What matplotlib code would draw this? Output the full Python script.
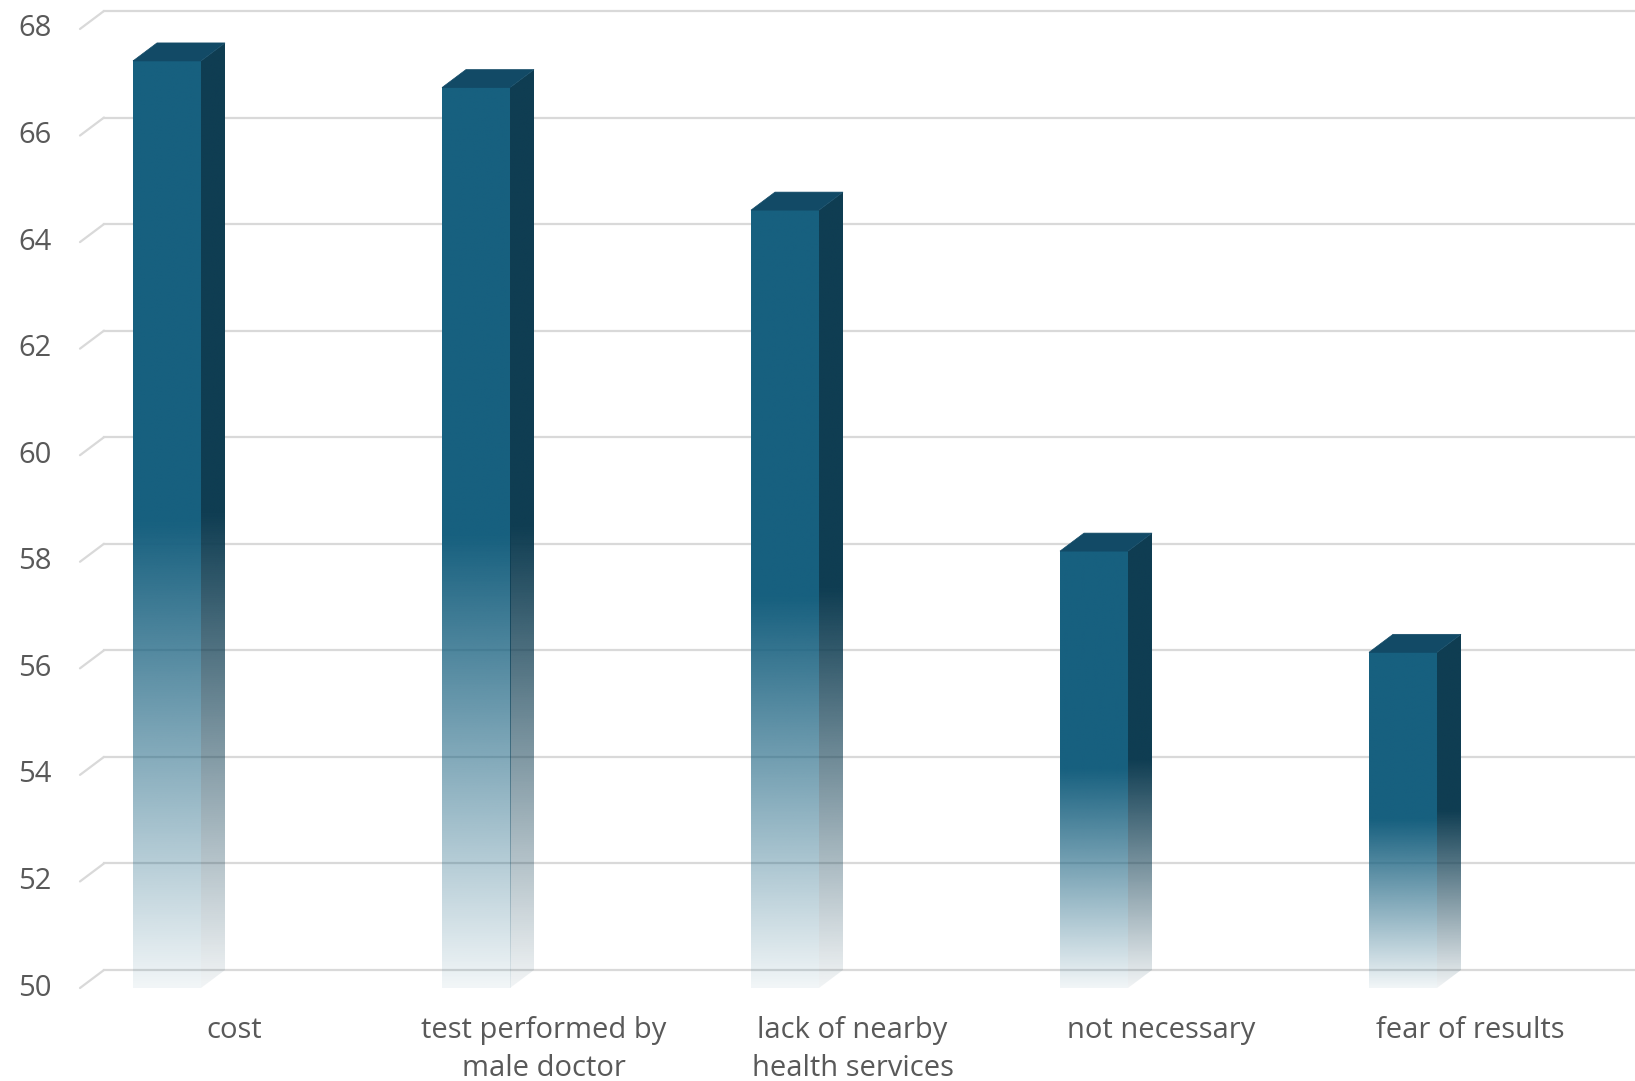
import numpy as np
import matplotlib.pyplot as plt
from matplotlib.patches import Polygon
from matplotlib.colors import to_rgb

categories = ["cost", "test performed by\nmale doctor", "lack of nearby\nhealth services",
              "not necessary", "fear of results"]
values = [67.4, 66.9, 64.6, 58.2, 56.3]
yticks = [50, 52, 54, 56, 58, 60, 62, 64, 66, 68]

front_col = "#17607F"
side_col = "#0F3D52"
top_col = "#124A66"
grid_col = "#D9D9D9"
text_col = "#595959"

plt.rcParams['font.family'] = ['Open Sans', 'DejaVu Sans']

W, H = 1635, 1081
fig = plt.figure(figsize=(W / 100, H / 100), dpi=100)
ax = fig.add_axes([0, 0, 1, 1])
ax.axis("off")

# pixel geometry of the category axis / value axis
x_px0, slot_px = 80, 309
y_px50, unit_px = 988, 53.28
xlim = ((0 - x_px0) / slot_px - 0.5, (W - x_px0) / slot_px - 0.5)
ylim = (50 - (H - y_px50) / unit_px, 50 + y_px50 / unit_px)

dx = 24 / slot_px      # depth offset in category units
dy = 18 / unit_px      # depth offset in value units
bar_w = 68 / slot_px
bar_off = -101.5 / slot_px
base = 50


def fade(col, n=256):
    # column of colours, row 0 = bottom; solid top half then fading out
    t = np.linspace(1, 0, n)  # fraction from top at each row (bottom=1)
    alpha = np.where(t < 0.5, 1.0, 1.0 - (t - 0.5) / 0.5 * 0.94)
    rgba = np.zeros((n, 1, 4))
    rgba[..., :3] = to_rgb(col)
    rgba[:, 0, 3] = alpha
    return rgba


# gridlines: back wall lines plus the short diagonal on the left side wall
x_left = -0.5
for v in yticks:
    ax.plot([x_left, x_left + dx], [v, v + dy], color=grid_col, lw=1.6,
            solid_capstyle="round", zorder=1)
    ax.plot([x_left + dx, xlim[1] + 1], [v + dy, v + dy], color=grid_col, lw=1.6, zorder=1)
    ax.text(-0.593, v, str(v), ha="right", va="center", fontsize=21, color=text_col)

for i, (lab, v) in enumerate(zip(categories, values)):
    x0 = i + bar_off
    x1 = x0 + bar_w
    # front face
    ax.imshow(fade(front_col), extent=[x0, x1, base, v], origin="lower",
              aspect="auto", interpolation="bilinear", zorder=3)
    # right side face, clipped to its parallelogram
    side = Polygon([(x1, base), (x1 + dx, base + dy), (x1 + dx, v + dy), (x1, v)],
                   closed=True, facecolor="none", edgecolor="none")
    ax.add_patch(side)
    im = ax.imshow(fade(side_col), extent=[x1, x1 + dx, base, v + dy], origin="lower",
                   aspect="auto", interpolation="bilinear", zorder=3)
    im.set_clip_path(side)
    # top face
    ax.add_patch(Polygon([(x0, v), (x1, v), (x1 + dx, v + dy), (x0 + dx, v + dy)],
                         closed=True, facecolor=top_col, edgecolor=top_col, lw=0.5,
                         zorder=4))
    ax.text(i, 49.47, lab, ha="center", va="top", fontsize=21, color=text_col,
            linespacing=1.4)

ax.set_xlim(*xlim)
ax.set_ylim(*ylim)

fig.savefig("out.png", dpi=100, facecolor="white")
